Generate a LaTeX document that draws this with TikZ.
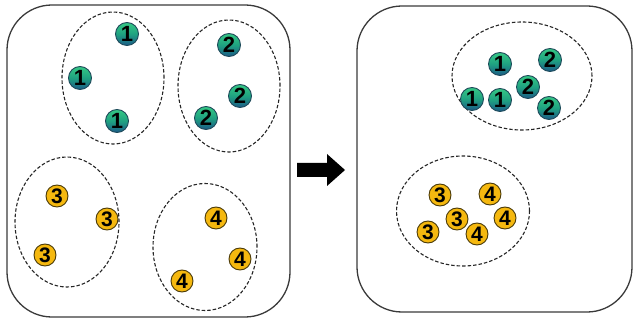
\documentclass[tikz,border=0pt]{standalone}
\usepackage{fontspec}
\setmainfont{Liberation Sans}
\usetikzlibrary{shapes.geometric}
\definecolor{gtop}{HTML}{35C884}
\definecolor{gmid}{HTML}{1FA281}
\definecolor{gbot}{HTML}{1B5A88}
\definecolor{gline}{HTML}{1E4A5A}
\definecolor{ofill}{HTML}{F5B80F}
\definecolor{oline}{HTML}{4A3A08}
\definecolor{boxline}{HTML}{3A3A3A}
\tikzset{
  panel/.style={draw=boxline, line width=1.3pt, rounded corners=45pt},
  group/.style={draw=black!85, ellipse, dash pattern=on 3.5pt off 2pt, line width=1.1pt, inner sep=0pt},
  gball/.style={circle, draw=gline, line width=0.9pt, minimum size=23pt, inner sep=0pt,
    top color=gtop, bottom color=gbot, middle color=gmid,
    font=\fontsize{22}{22}\selectfont\bfseries, text=black},
  oball/.style={circle, draw=oline, line width=0.9pt, minimum size=22pt, inner sep=0pt,
    fill=ofill, font=\fontsize{21}{21}\selectfont\bfseries, text=black},
}
\begin{document}
\begin{tikzpicture}[x=1pt,y=-1pt]
\useasboundingbox (0,0) rectangle (636,320);
% panels
\draw[panel] (7,5) rectangle (290,317);
\draw[panel] (357,6) rectangle (632,312);
% arrow
\fill[black] (297,163) -- (327,163) -- (327,154) -- (345,170) -- (327,186) -- (327,177) -- (297,177) -- cycle;
% left groups
\node[group, minimum width=102pt, minimum height=132pt] (e1) at (113,78) {};
\node[group, minimum width=102pt, minimum height=132pt] (e2) at (229,86) {};
\node[group, minimum width=104pt, minimum height=130pt] (e3) at (67,222) {};
\node[group, minimum width=104pt, minimum height=127pt] (e4) at (205,247) {};
% right groups
\node[group, minimum width=140pt, minimum height=108pt] (e5) at (522,76) {};
\node[group, minimum width=133pt, minimum height=110pt] (e6) at (463,211) {};
% left balls
\node[gball] (a1) at (127,34) {1};
\node[gball] (a2) at (80,78) {1};
\node[gball] (a3) at (117,121) {1};
\node[gball] (b1) at (229,45) {2};
\node[gball] (b2) at (240,96) {2};
\node[gball] (b3) at (206,118) {2};
\node[oball] (c1) at (57,196) {3};
\node[oball] (c2) at (107,219) {3};
\node[oball] (c3) at (45,255) {3};
\node[oball] (d1) at (216,218) {4};
\node[oball] (d2) at (240,259) {4};
\node[oball] (d3) at (182,281) {4};
% right balls
\node[gball] (ra1) at (500,64) {1};
\node[gball] (ra2) at (472,99) {1};
\node[gball] (ra3) at (500,100) {1};
\node[gball] (rb1) at (550,60) {2};
\node[gball] (rb2) at (528,87) {2};
\node[gball] (rb3) at (549,108) {2};
\node[oball] (rc1) at (440,195) {3};
\node[oball] (rc2) at (457,219) {3};
\node[oball] (rc3) at (428,232) {3};
\node[oball] (rd1) at (490,194) {4};
\node[oball] (rd2) at (505,218) {4};
\node[oball] (rd3) at (477,234) {4};
\end{tikzpicture}
\end{document}
